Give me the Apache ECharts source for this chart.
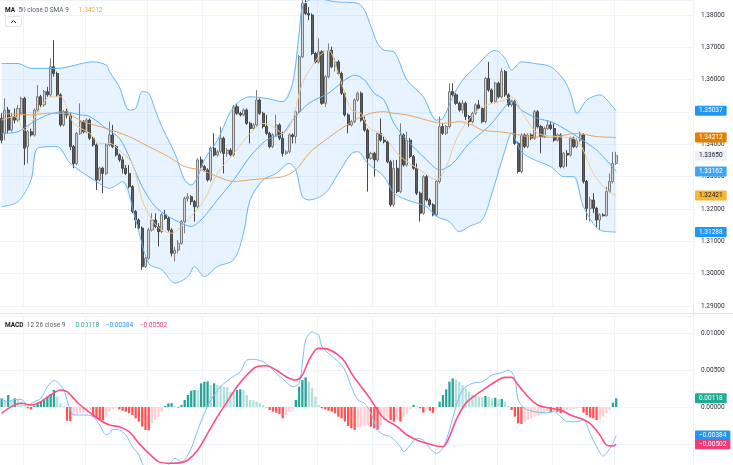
<!DOCTYPE html>
<html>
<head>
<meta charset="utf-8">
<script src="https://cdn.jsdelivr.net/npm/echarts@6/dist/echarts.min.js"></script>
<style>
  html, body { margin: 0; padding: 0; background: #fff; }
  #chart { width: 733px; height: 465px; }
</style>
</head>
<body>
<div id="chart"></div>
<script>
// daily candles
const candleOpen = [
  1.3480,1.3434,1.3506,1.3444,1.3486,1.3475,1.3496,1.3542,1.3393,1.3439,
  1.3429,1.3506,1.3547,1.3522,1.3563,1.3553,1.3640,1.3619,1.3553,1.3460,
  1.3501,1.3491,1.3393,1.3341,1.3434,1.3470,1.3439,1.3475,1.3419,1.3398,
  1.3290,1.3326,1.3310,1.3398,1.3429,1.3393,1.3367,1.3352,1.3326,1.3310,
  1.3269,1.3192,1.3166,1.3141,1.3022,1.3048,1.3135,1.3166,1.3146,1.3130,
  1.3182,1.3171,1.3135,1.3063,1.3073,1.3094,1.3161,1.3233,1.3238,1.3223,
  1.3207,1.3352,1.3331,1.3321,1.3290,1.3388,1.3367,1.3377,1.3419,1.3372,
  1.3382,1.3367,1.3516,1.3496,1.3491,1.3506,1.3465,1.3449,1.3460,1.3537,
  1.3496,1.3455,1.3434,1.3393,1.3429,1.3460,1.3419,1.3372,1.3377,1.3429,
  1.3424,1.3501,1.3671,1.3836,1.3805,1.3800,1.3681,1.3655,1.3686,1.3527,
  1.3609,1.3691,1.3640,1.3655,1.3619,1.3558,1.3491,1.3460,1.3470,1.3537,
  1.3558,1.3475,1.3444,1.3357,1.3372,1.3352,1.3434,1.3413,1.3408,1.3346,
  1.3213,1.3326,1.3254,1.3429,1.3336,1.3413,1.3362,1.3326,1.3249,1.3187,
  1.3300,1.3228,1.3213,1.3182,1.3285,1.3455,1.3434,1.3455,1.3563,1.3553,
  1.3527,1.3506,1.3527,1.3486,1.3470,1.3496,1.3522,1.3511,1.3470,1.3604,
  1.3568,1.3532,1.3589,1.3547,1.3625,1.3553,1.3522,1.3532,1.3403,1.3316,
  1.3429,1.3393,1.3429,1.3419,1.3501,1.3455,1.3424,1.3449,1.3460,1.3449,
  1.3413,1.3429,1.3331,1.3372,1.3367,1.3419,1.3393,1.3413,1.3429,1.3285,
  1.3202,1.3228,1.3202,1.3166,1.3182,1.3179,1.3254,1.3285,1.3341
];
const candleClose = [
  1.3413,1.3506,1.3444,1.3486,1.3475,1.3511,1.3542,1.3388,1.3439,1.3429,
  1.3506,1.3547,1.3522,1.3563,1.3553,1.3640,1.3619,1.3553,1.3460,1.3501,
  1.3491,1.3393,1.3341,1.3434,1.3470,1.3439,1.3475,1.3419,1.3398,1.3290,
  1.3326,1.3310,1.3398,1.3429,1.3393,1.3367,1.3352,1.3326,1.3310,1.3269,
  1.3192,1.3166,1.3141,1.3022,1.3048,1.3135,1.3166,1.3146,1.3130,1.3182,
  1.3171,1.3135,1.3063,1.3073,1.3094,1.3161,1.3233,1.3238,1.3223,1.3207,
  1.3352,1.3331,1.3321,1.3290,1.3388,1.3367,1.3377,1.3419,1.3372,1.3382,
  1.3367,1.3516,1.3496,1.3491,1.3506,1.3465,1.3449,1.3460,1.3537,1.3496,
  1.3455,1.3434,1.3393,1.3429,1.3460,1.3419,1.3372,1.3377,1.3429,1.3424,
  1.3501,1.3671,1.3836,1.3805,1.3800,1.3681,1.3655,1.3686,1.3527,1.3609,
  1.3691,1.3640,1.3655,1.3619,1.3558,1.3491,1.3460,1.3470,1.3537,1.3558,
  1.3475,1.3444,1.3357,1.3372,1.3352,1.3434,1.3413,1.3408,1.3346,1.3213,
  1.3326,1.3254,1.3429,1.3336,1.3413,1.3362,1.3326,1.3249,1.3187,1.3300,
  1.3228,1.3213,1.3182,1.3285,1.3455,1.3434,1.3455,1.3563,1.3553,1.3527,
  1.3506,1.3527,1.3486,1.3470,1.3496,1.3522,1.3511,1.3470,1.3604,1.3568,
  1.3532,1.3589,1.3547,1.3625,1.3553,1.3522,1.3532,1.3403,1.3316,1.3429,
  1.3393,1.3429,1.3419,1.3501,1.3455,1.3424,1.3449,1.3460,1.3449,1.3413,
  1.3429,1.3331,1.3372,1.3367,1.3419,1.3393,1.3413,1.3429,1.3285,1.3202,
  1.3228,1.3202,1.3166,1.3182,1.3179,1.3254,1.3285,1.3341,1.3365
];
const candleHigh = [
  1.3496,1.3542,1.3516,1.3496,1.3511,1.3522,1.3547,1.3547,1.3444,1.3449,
  1.3511,1.3583,1.3553,1.3568,1.3578,1.3666,1.3722,1.3625,1.3558,1.3506,
  1.3511,1.3496,1.3398,1.3439,1.3527,1.3475,1.3480,1.3480,1.3424,1.3403,
  1.3331,1.3331,1.3403,1.3470,1.3460,1.3398,1.3372,1.3362,1.3336,1.3336,
  1.3274,1.3197,1.3171,1.3146,1.3053,1.3141,1.3187,1.3187,1.3156,1.3187,
  1.3197,1.3177,1.3141,1.3084,1.3104,1.3166,1.3238,1.3249,1.3243,1.3228,
  1.3357,1.3362,1.3336,1.3326,1.3393,1.3434,1.3382,1.3455,1.3424,1.3388,
  1.3388,1.3522,1.3527,1.3501,1.3511,1.3511,1.3470,1.3465,1.3568,1.3542,
  1.3501,1.3491,1.3439,1.3434,1.3491,1.3465,1.3439,1.3382,1.3434,1.3434,
  1.3506,1.3676,1.3846,1.3856,1.3825,1.3805,1.3686,1.3728,1.3691,1.3614,
  1.3712,1.3702,1.3666,1.3661,1.3625,1.3563,1.3496,1.3475,1.3542,1.3563,
  1.3563,1.3486,1.3449,1.3377,1.3377,1.3439,1.3480,1.3424,1.3413,1.3352,
  1.3352,1.3352,1.3465,1.3434,1.3439,1.3419,1.3367,1.3341,1.3254,1.3305,
  1.3305,1.3233,1.3218,1.3290,1.3486,1.3465,1.3460,1.3589,1.3589,1.3558,
  1.3532,1.3537,1.3532,1.3491,1.3501,1.3527,1.3537,1.3516,1.3609,1.3655,
  1.3573,1.3594,1.3594,1.3635,1.3630,1.3558,1.3537,1.3537,1.3408,1.3434,
  1.3434,1.3434,1.3434,1.3506,1.3506,1.3460,1.3455,1.3475,1.3470,1.3465,
  1.3434,1.3434,1.3377,1.3382,1.3424,1.3424,1.3419,1.3439,1.3434,1.3290,
  1.3238,1.3249,1.3207,1.3187,1.3187,1.3269,1.3310,1.3377,1.3377
];
const candleLow = [
  1.3403,1.3413,1.3434,1.3439,1.3465,1.3470,1.3491,1.3336,1.3341,1.3424,
  1.3424,1.3501,1.3516,1.3516,1.3547,1.3547,1.3609,1.3547,1.3455,1.3455,
  1.3480,1.3382,1.3326,1.3336,1.3429,1.3434,1.3434,1.3413,1.3393,1.3259,
  1.3285,1.3249,1.3305,1.3393,1.3388,1.3362,1.3346,1.3310,1.3305,1.3264,
  1.3187,1.3141,1.3135,1.3012,1.3017,1.3043,1.3130,1.3141,1.3084,1.3125,
  1.3166,1.3130,1.3053,1.3038,1.3063,1.3089,1.3125,1.3223,1.3213,1.3161,
  1.3202,1.3326,1.3316,1.3285,1.3285,1.3362,1.3362,1.3372,1.3310,1.3362,
  1.3362,1.3362,1.3491,1.3486,1.3486,1.3460,1.3403,1.3444,1.3455,1.3491,
  1.3449,1.3429,1.3388,1.3388,1.3424,1.3413,1.3362,1.3367,1.3372,1.3403,
  1.3403,1.3496,1.3666,1.3800,1.3784,1.3676,1.3650,1.3650,1.3522,1.3516,
  1.3604,1.3635,1.3625,1.3614,1.3553,1.3486,1.3434,1.3455,1.3465,1.3532,
  1.3470,1.3439,1.3254,1.3352,1.3300,1.3346,1.3408,1.3403,1.3341,1.3207,
  1.3207,1.3249,1.3249,1.3331,1.3331,1.3357,1.3321,1.3243,1.3161,1.3182,
  1.3223,1.3207,1.3177,1.3177,1.3279,1.3429,1.3429,1.3449,1.3547,1.3522,
  1.3501,1.3496,1.3475,1.3455,1.3465,1.3491,1.3506,1.3465,1.3465,1.3563,
  1.3527,1.3527,1.3542,1.3542,1.3547,1.3516,1.3516,1.3398,1.3310,1.3310,
  1.3388,1.3388,1.3413,1.3413,1.3449,1.3372,1.3419,1.3444,1.3444,1.3408,
  1.3408,1.3326,1.3326,1.3331,1.3362,1.3388,1.3388,1.3408,1.3279,1.3166,
  1.3161,1.3187,1.3141,1.3135,1.3177,1.3177,1.3249,1.3279,1.3336
];

// indicator lines, [bar, value]
const bbUpper = [[0,1.3650],[5,1.3650],[9,1.3635],[17,1.3635],[28,1.3655],[32,1.3645],[33,1.3625],[36,1.3578],[39,1.3506],[41,1.3511],[43,1.3563],[45,1.3558],[47,1.3506],[49,1.3455],[53,1.3372],[56,1.3289],[58,1.3274],[60,1.3300],[62,1.3352],[66,1.3413],[71,1.3516],[76,1.3547],[81,1.3542],[86,1.3532],[89,1.3589],[91,1.3743],[92,1.3825],[94,1.3846],[97,1.3850],[102,1.3841],[109,1.3836],[111,1.3815],[113,1.3764],[115,1.3712],[117,1.3691],[120,1.3686],[124,1.3599],[129,1.3547],[133,1.3475],[135,1.3480],[138,1.3547],[141,1.3599],[145,1.3640],[149,1.3681],[151,1.3691],[154,1.3666],[156,1.3630],[159,1.3655],[163,1.3650],[168,1.3640],[172,1.3599],[174,1.3558],[176,1.3496],[179,1.3537],[183,1.3553],[187,1.3516],[188,1.35037]];
const bbMiddle = [[0,1.3434],[5,1.3439],[9,1.3465],[14,1.3491],[19,1.3501],[24,1.3491],[27,1.3486],[32,1.3449],[36,1.3419],[39,1.3362],[43,1.3269],[47,1.3207],[51,1.3177],[55,1.3156],[58,1.3146],[61,1.3166],[66,1.3228],[71,1.3290],[76,1.3362],[81,1.3413],[86,1.3434],[89,1.3475],[94,1.3527],[100,1.3558],[105,1.3599],[108,1.3614],[111,1.3599],[114,1.3558],[117,1.3537],[120,1.3465],[124,1.3413],[130,1.3352],[134,1.3321],[138,1.3341],[143,1.3403],[149,1.3455],[154,1.3516],[156,1.3537],[159,1.3506],[164,1.3480],[168,1.3470],[172,1.3449],[176,1.3424],[182,1.3382],[188,1.33162]];
const bbLower = [[0,1.3207],[5,1.3223],[9,1.3290],[11,1.3388],[17,1.3393],[21,1.3341],[29,1.3285],[33,1.3264],[37,1.3285],[41,1.3166],[45,1.3032],[49,1.3012],[53,1.2971],[57,1.2991],[59,1.3022],[62,1.2991],[66,1.3022],[71,1.3043],[74,1.3125],[76,1.3228],[80,1.3290],[84,1.3310],[88,1.3341],[90,1.3321],[92,1.3238],[94,1.3228],[99,1.3249],[103,1.3310],[107,1.3372],[109,1.3377],[112,1.3341],[117,1.3300],[120,1.3249],[124,1.3228],[130,1.3207],[133,1.3177],[137,1.3161],[140,1.3130],[143,1.3146],[147,1.3166],[150,1.3249],[154,1.3382],[156,1.3434],[159,1.3377],[163,1.3352],[168,1.3331],[172,1.3300],[175,1.3300],[178,1.3207],[183,1.3135],[188,1.31288]];
const ma50 = [[0,1.3496],[9,1.3491],[14,1.3496],[19,1.3496],[25,1.3470],[32,1.3449],[39,1.3424],[45,1.3393],[51,1.3362],[55,1.3336],[58,1.3326],[61,1.3321],[66,1.3300],[71,1.3285],[76,1.3290],[81,1.3295],[86,1.3300],[90,1.3321],[94,1.3372],[99,1.3413],[104,1.3449],[109,1.3480],[113,1.3496],[117,1.3501],[120,1.3496],[124,1.3491],[130,1.3475],[135,1.3465],[140,1.3470],[144,1.3460],[147,1.3444],[152,1.3439],[156,1.3434],[161,1.3424],[168,1.3422],[176,1.3434],[182,1.3424],[188,1.34212]];
const sma9 = [[0,1.3475],[4,1.3486],[7,1.3444],[10,1.3480],[15,1.3547],[18,1.3547],[22,1.3465],[27,1.3434],[30,1.3403],[33,1.3403],[37,1.3372],[40,1.3341],[43,1.3228],[46,1.3166],[49,1.3135],[52,1.3125],[55,1.3146],[58,1.3177],[62,1.3228],[66,1.3310],[71,1.3372],[76,1.3434],[80,1.3465],[83,1.3455],[86,1.3434],[89,1.3475],[92,1.3589],[97,1.3671],[100,1.3691],[103,1.3619],[107,1.3506],[110,1.3496],[112,1.3455],[117,1.3424],[122,1.3362],[128,1.3321],[133,1.3290],[136,1.3331],[139,1.3413],[142,1.3465],[147,1.3516],[154,1.3537],[156,1.3547],[160,1.3486],[164,1.3434],[170,1.3424],[176,1.3413],[181,1.3310],[185,1.3259],[188,1.32421]];

// MACD 12 26 9
const macdHist = [
  0.00117,0.00095,0.00162,0.00095,0.00117,0.00095,0.00072,0.00027,-0.00018,-0.00032,
  0.00014,0.00050,0.00072,0.00095,0.00140,0.00176,0.00230,0.00140,0.00050,0.00009,
  -0.00185,-0.00190,-0.00108,-0.00099,-0.00086,-0.00080,-0.00063,-0.00041,-0.00131,-0.00153,
  -0.00176,-0.00180,-0.00131,-0.00063,-0.00032,-0.00018,-0.00032,-0.00050,-0.00063,-0.00086,
  -0.00108,-0.00153,-0.00198,-0.00266,-0.00311,-0.00315,-0.00221,-0.00176,-0.00131,-0.00063,
  0.00014,0.00050,0.00052,0.00014,-0.00009,0.00027,0.00095,0.00162,0.00221,0.00230,
  0.00225,0.00320,0.00342,0.00345,0.00297,0.00320,0.00297,0.00290,0.00275,0.00270,
  0.00207,0.00200,0.00230,0.00239,0.00230,0.00162,0.00095,0.00090,0.00072,0.00050,
  0.00027,-0.00005,-0.00041,-0.00063,-0.00077,-0.00095,-0.00153,-0.00108,-0.00063,-0.00032,
  0.00095,0.00275,0.00365,0.00401,0.00342,0.00252,0.00140,0.00027,
  -0.00018,-0.00032,-0.00050,-0.00063,-0.00086,-0.00131,-0.00153,-0.00198,-0.00257,-0.00288,
  -0.00311,-0.00275,-0.00266,-0.00257,-0.00243,-0.00266,-0.00288,-0.00311,-0.00243,-0.00176,
  -0.00131,-0.00176,-0.00198,-0.00176,-0.00198,-0.00131,-0.00086,-0.00032,0.00027,0.00014,
  -0.00018,-0.00077,-0.00032,-0.00050,-0.00077,-0.00032,0.00072,0.00162,0.00239,0.00342,
  0.00387,0.00374,0.00342,0.00297,0.00252,0.00207,0.00162,0.00150,0.00140,0.00131,
  0.00149,0.00140,0.00117,0.00125,0.00104,0.00110,0.00072,0.00014,-0.00041,-0.00131,
  -0.00221,-0.00230,-0.00198,-0.00176,-0.00153,-0.00131,-0.00108,-0.00097,-0.00086,-0.00055,
  -0.00068,-0.00050,-0.00068,-0.00086,-0.00063,-0.00041,-0.00032,-0.00023,-0.00018,-0.00014,
  -0.00077,-0.00108,-0.00140,-0.00153,-0.00176,-0.00167,-0.00131,-0.00086,-0.00041,0.00059,0.00118
];
const macdLine = [[0,0.00095],[2,0.00072],[4,0.00104],[6,0.00104],[8,0.00027],[10,0.00072],[12,0.00117],[14,0.00275],[16,0.00356],[17,0.00342],[19,0.00230],[20,0.00095],[21,-0.00041],[22,-0.00108],[24,-0.00108],[26,-0.00108],[28,-0.00131],[30,-0.00243],[32,-0.00378],[33,-0.00356],[34,-0.00302],[36,-0.00311],[38,-0.00378],[40,-0.00536],[42,-0.00648],[43,-0.00761],[45,-0.00896],[47,-0.00941],[50,-0.00828],[52,-0.00738],[53,-0.00693],[55,-0.00738],[56,-0.00716],[58,-0.00558],[60,-0.00311],[62,-0.00086],[64,0.00095],[67,0.00275],[70,0.00387],[73,0.00477],[75,0.00635],[77,0.00644],[80,0.00612],[82,0.00545],[84,0.00455],[87,0.00342],[89,0.00275],[91,0.00320],[92,0.00590],[93,0.00905],[95,0.01017],[96,0.00995],[97,0.00972],[98,0.00815],[100,0.00725],[103,0.00612],[105,0.00500],[107,0.00275],[109,0.00095],[111,0.00050],[113,-0.00086],[115,-0.00311],[117,-0.00378],[119,-0.00401],[122,-0.00536],[123,-0.00603],[125,-0.00513],[127,-0.00423],[129,-0.00446],[131,-0.00558],[133,-0.00626],[135,-0.00558],[137,-0.00311],[139,0.00005],[141,0.00230],[144,0.00320],[147,0.00342],[150,0.00432],[153,0.00464],[155,0.00500],[157,0.00387],[158,0.00095],[160,-0.00018],[163,-0.00063],[167,-0.00077],[169,-0.00063],[171,-0.00131],[173,-0.00198],[176,-0.00198],[178,-0.00176],[180,-0.00356],[182,-0.00536],[184,-0.00662],[185,-0.00626],[187,-0.00491],[188,-0.00384]];
const signalLine = [[0,-0.00086],[3,0.00005],[6,0.00050],[9,0.00027],[12,0.00072],[15,0.00162],[18,0.00230],[20,0.00207],[22,0.00117],[24,0.00027],[26,-0.00041],[28,-0.00108],[30,-0.00176],[33,-0.00243],[36,-0.00266],[39,-0.00333],[42,-0.00491],[45,-0.00626],[48,-0.00738],[52,-0.00761],[55,-0.00752],[57,-0.00716],[60,-0.00581],[63,-0.00356],[66,-0.00131],[69,0.00072],[72,0.00275],[75,0.00432],[78,0.00545],[81,0.00558],[84,0.00500],[87,0.00410],[90,0.00365],[92,0.00432],[94,0.00635],[96,0.00770],[97,0.00792],[100,0.00779],[103,0.00702],[105,0.00612],[107,0.00455],[110,0.00275],[113,0.00095],[115,-0.00041],[117,-0.00153],[121,-0.00266],[124,-0.00378],[127,-0.00446],[130,-0.00491],[133,-0.00527],[135,-0.00536],[137,-0.00401],[139,-0.00176],[142,0.00050],[145,0.00162],[148,0.00252],[151,0.00342],[154,0.00401],[156,0.00401],[158,0.00297],[161,0.00140],[164,0.00027],[168,-0.00018],[171,-0.00041],[174,-0.00108],[177,-0.00153],[180,-0.00221],[183,-0.00378],[185,-0.00513],[187,-0.00527],[188,-0.00502]];

// right-scale badges: bb upper, ma, last, bb basis, sma, bb lower
const priceBadges = [1.35037, 1.34212, 1.33650, 1.33162, 1.32421, 1.31288];
const macdBadges = [0.00118, -0.00384, -0.00502];
// bars where the time grid lines fall
const timeGridBars = [7, 26, 45, 62, 79, 97, 114, 133, 152, 169, 188];
const slotCount = 212;

const FONT = 'Roboto, "Liberation Sans", sans-serif';
const slots = Array.from({ length: slotCount }, (_, i) => i);
const gridSet = new Set(timeGridBars);
const fmt = v => (v < 0 ? '\u2212' : '') + Math.abs(v).toFixed(5);
const candles = candleOpen.map((o, i) => [o, candleClose[i], candleLow[i], candleHigh[i]]);

const priceBadgeStyle = [
  ['#2196f3', '#fff'], ['#e67e00', '#fff'], ['#eef0f4', '#131722'],
  ['#40a4f4', '#fff'], ['#f7b733', '#131722'], ['#2196f3', '#fff']
];
const macdBadgeStyle = [['#22ab94', '#fff'], ['#2196f3', '#fff'], ['#f23c74', '#fff']];

function line(data, color, width, axis) {
  return {
    type: 'line', data: data, xAxisIndex: axis, yAxisIndex: axis,
    showSymbol: false, smooth: 0.3, silent: true, z: 4,
    lineStyle: { color: color, width: width }
  };
}

const chart = echarts.init(document.getElementById('chart'));

const xAx = idx => ({
  type: 'category', gridIndex: idx, data: slots, boundaryGap: true,
  axisLine: { show: false }, axisTick: { show: false }, axisLabel: { show: false },
  splitLine: { show: true, interval: i => gridSet.has(i), lineStyle: { color: '#f0f3fa', width: 1 } }
});
const yLabel = { formatter: fmt, fontSize: 6.5, color: '#2a2e39', fontFamily: FONT, margin: 8, showMaxLabel: false };

const baseGraphic = [
  { type: 'line', shape: { x1: 693.5, y1: 0, x2: 693.5, y2: 465 }, style: { stroke: '#e0e3eb', lineWidth: 1 }, silent: true },
  { type: 'line', shape: { x1: 0, y1: 313.5, x2: 733, y2: 313.5 }, style: { stroke: '#e0e3eb', lineWidth: 1 }, silent: true },
  {
    type: 'text', left: 5, top: 4, silent: true,
    style: {
      text: '{a|MA} {b|50 close 0 SMA 9}   {c|1.34212}',
      rich: {
        a: { fontSize: 6.5, fontFamily: FONT, fill: '#131722', fontWeight: 'bold' },
        b: { fontSize: 6.5, fontFamily: FONT, fill: '#555a66' },
        c: { fontSize: 6.5, fontFamily: FONT, fill: '#f2a02c' }
      }
    }
  },
  { type: 'rect', shape: { x: 5.5, y: 16.5, width: 16, height: 10, r: 2 }, style: { fill: '#fff', stroke: '#e0e3eb', lineWidth: 1 }, silent: true },
  { type: 'polyline', shape: { points: [[11, 23], [13.5, 20.5], [16, 23]] }, style: { stroke: '#131722', lineWidth: 1, fill: null }, silent: true },
  {
    type: 'text', left: 5, top: 319, silent: true,
    style: {
      text: '{a|MACD} {b|12 26 close 9}   {g|0.00118}  {u|\u22120.00384}  {s|\u22120.00502}',
      rich: {
        a: { fontSize: 6.5, fontFamily: FONT, fill: '#131722', fontWeight: 'bold' },
        b: { fontSize: 6.5, fontFamily: FONT, fill: '#555a66' },
        g: { fontSize: 6.5, fontFamily: FONT, fill: '#22ab94' },
        u: { fontSize: 6.5, fontFamily: FONT, fill: '#2196f3' },
        s: { fontSize: 6.5, fontFamily: FONT, fill: '#f23c74' }
      }
    }
  }
];

const option = {
  animation: false,
  grid: [
    { left: 0, right: 40, top: 0, height: 306, containLabel: false, outerBoundsMode: 'none' },
    { left: 0, right: 40, top: 316, height: 165, containLabel: false, outerBoundsMode: 'none' }
  ],
  xAxis: [xAx(0), xAx(1)],
  yAxis: [
    {
      type: 'value', gridIndex: 0, position: 'right', min: 1.29, max: 1.38464, interval: 0.01,
      axisLine: { show: false }, axisTick: { show: false }, axisLabel: yLabel,
      splitLine: { lineStyle: { color: '#f0f3fa' } }
    },
    {
      type: 'value', gridIndex: 1, position: 'right', min: -0.01, max: 0.0123, interval: 0.005,
      axisLine: { show: false }, axisTick: { show: false }, axisLabel: yLabel,
      splitLine: { lineStyle: { color: '#f0f3fa' } }
    }
  ],
  series: [
    {
      // bollinger band fill
      type: 'custom', xAxisIndex: 0, yAxisIndex: 0, silent: true, z: 1, clip: true,
      data: [[0, 1.33]],
      renderItem: function (params, api) {
        const pts = bbUpper.map(p => api.coord(p))
          .concat(bbLower.slice().reverse().map(p => api.coord(p)));
        return { type: 'polygon', shape: { points: pts }, style: { fill: 'rgba(33,150,243,0.11)' } };
      }
    },
    {
      type: 'candlestick', xAxisIndex: 0, yAxisIndex: 0, data: candles, barWidth: '78%', z: 3,
      itemStyle: { color: '#d6d6d6', color0: '#5e5e5e', borderColor: '#7c7c7c', borderColor0: '#474747', borderWidth: 1 }
    },
    line(bbUpper, '#64b5f6', 1, 0),
    line(bbLower, '#64b5f6', 1, 0),
    line(bbMiddle, '#5aaef3', 1, 0),
    line(ma50, '#eba25a', 1, 0),
    line(sma9, '#f3c98e', 1, 0),
    {
      type: 'bar', xAxisIndex: 1, yAxisIndex: 1, data: macdHist, barWidth: '70%', silent: true,
      itemStyle: {
        color: function (p) {
          const v = macdHist[p.dataIndex];
          const prev = p.dataIndex > 0 ? macdHist[p.dataIndex - 1] : v;
          if (v >= 0) return v >= prev ? '#26a69a' : '#b2dfdb';
          return v < prev ? '#ff5252' : '#ffcdd2';
        }
      }
    },
    line(macdLine, '#7cbdf5', 1, 1),
    line(signalLine, '#ff4d82', 1.6, 1)
  ],
  graphic: baseGraphic
};

chart.setOption(option);

// value badges on the right scale, placed through the axes
function badgeItems(values, styles, axis) {
  return values.map((v, k) => ({
    type: 'text', x: 695, y: chart.convertToPixel({ yAxisIndex: axis }, v), z: 100, silent: true,
    style: {
      text: fmt(v), fill: styles[k][1], backgroundColor: styles[k][0],
      padding: [2, 4, 1, 4], borderRadius: 1,
      fontSize: 6.5, fontFamily: FONT, align: 'left', verticalAlign: 'middle'
    }
  }));
}
chart.setOption({
  graphic: baseGraphic
    .concat(badgeItems(priceBadges, priceBadgeStyle, 0))
    .concat(badgeItems(macdBadges, macdBadgeStyle, 1))
});
window.addEventListener('resize', function () { chart.resize(); });
</script>
</body>
</html>
